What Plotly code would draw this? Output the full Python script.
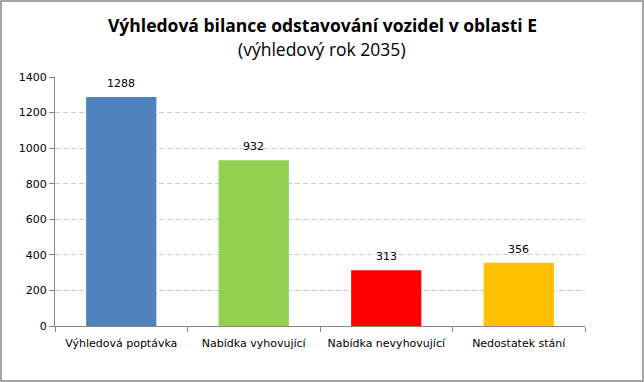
import plotly.graph_objects as go

categories = ["Výhledová poptávka", "Nabídka vyhovující", "Nabídka nevyhovující", "Nedostatek stání"]
values = [1288, 932, 313, 356]
colors = ["#4F81BD", "#92D050", "#FF0000", "#FFC000"]
tick_vals = [0, 200, 400, 600, 800, 1000, 1200, 1400]

W, H = 644, 382
ml, mr, mt, mb = 55, 59, 77, 56
pw, ph = W - ml - mr, H - mt - mb

fig = go.Figure(go.Bar(
    x=categories, y=values, marker_color=colors, width=0.53,
    marker_line_width=0, hoverinfo="x+y",
))

annotations = [
    dict(text="<b>Výhledová bilance odstavování vozidel v oblasti E</b>",
         xref="paper", yref="paper", x=(W/2 - ml)/pw, y=1 + (mt - 25)/ph,
         showarrow=False, font=dict(family="Open Sans", size=17.5, color="#000"),
         xanchor="center", yanchor="middle"),
    dict(text="(výhledový rok 2035)",
         xref="paper", yref="paper", x=(W/2 - ml)/pw, y=1 + (mt - 49)/ph,
         showarrow=False, font=dict(family="Open Sans", size=17.5, color="#000"),
         xanchor="center", yanchor="middle"),
]
for c, v in zip(categories, values):
    annotations.append(dict(text=str(v), x=c, y=v, xref="x", yref="y",
                            showarrow=False, yanchor="bottom", yshift=5,
                            font=dict(family="DejaVu Sans", size=11, color="#000")))

fig.update_layout(
    width=W, height=H,
    margin=dict(l=ml, r=mr, t=mt, b=mb, autoexpand=False),
    paper_bgcolor="white", plot_bgcolor="white",
    showlegend=False,
    font=dict(family="DejaVu Sans", size=11, color="#000000"),
    annotations=annotations,
    shapes=[dict(type="rect", xref="paper", yref="paper",
                 x0=-(ml - 1)/pw, x1=1 + (mr - 1)/pw,
                 y0=-(mb - 1)/ph, y1=1 + (mt - 1)/ph,
                 line=dict(color="#888888", width=1.5), layer="below")],
)
fig.update_yaxes(range=[0, 1400], tickvals=tick_vals, showgrid=True,
                 gridcolor="#CCCCCC", griddash="5px,3px", gridwidth=1,
                 showline=True, linecolor="#868686", ticks="outside", ticklen=5,
                 tickcolor="#868686", tickfont=dict(size=11), zeroline=False,
                 automargin=False)
fig.update_xaxes(showline=True, linecolor="#868686", ticks="outside", ticklen=5,
                 tickcolor="#868686", tickson="boundaries", tickfont=dict(size=11),
                 tickangle=0, automargin=False, ticklabelstandoff=7)

fig.write_html("out.html", config={"displayModeBar": False},
               post_script="document.body.style.margin='0';document.body.style.overflow='hidden';")
